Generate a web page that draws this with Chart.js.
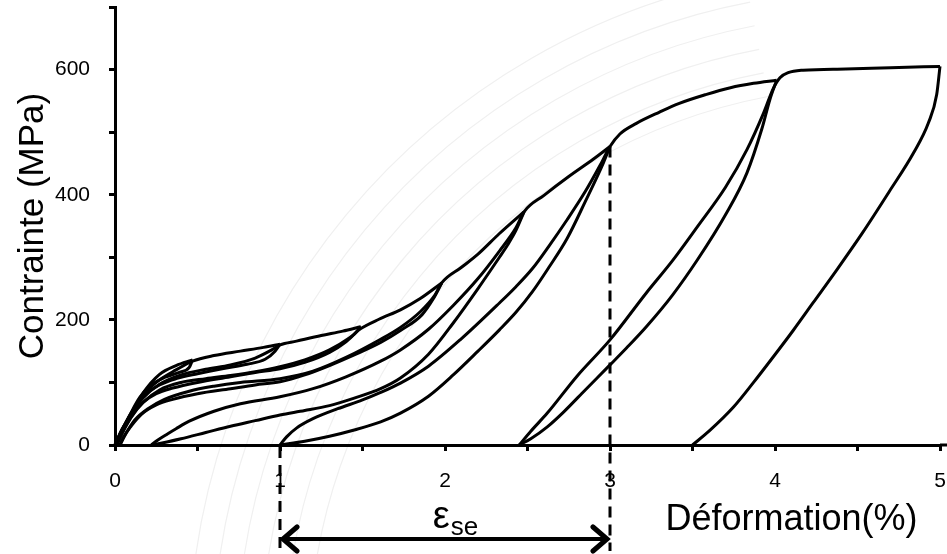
<!DOCTYPE html>
<html><head><meta charset="utf-8">
<script src="https://cdn.jsdelivr.net/npm/chart.js@4.4.1/dist/chart.umd.min.js"></script>
<style>html,body{margin:0;padding:0;background:#fff}#wrap{width:947px;height:554px}</style>
</head><body><div id="wrap"><canvas id="c" width="947" height="554"></canvas></div>
<script>
// Tick labels
const xTickLabels = [0, 1, 2, 3, 4, 5];
const yTickLabels = [0, 200, 400, 600];
// Strain (%) / stress (MPa) pairs, one array per loading / unloading branch
const load1 = [[0,0],[0.04,24],[0.09,45],[0.17,83],[0.27,113],[0.37,127],[0.47,136]];
const unload1 = [[0.47,136],[0.45,124],[0.39,116],[0.3,108],[0.22,96],[0.15,76],[0.09,48],[0.04,22],[0,0]];
const load2 = [[0,0],[0.04,23],[0.1,52],[0.17,80],[0.27,104],[0.37,120],[0.47,134],[0.6,143],[0.76,150],[0.9,156],[1.0,161]];
const unload2 = [[1.0,161],[0.97,150],[0.91,137],[0.8,129],[0.65,122],[0.5,114],[0.37,106],[0.27,96],[0.18,80],[0.11,56],[0.05,27],[0,0]];
const load3 = [[0,0],[0.05,27],[0.1,50],[0.17,75],[0.27,97],[0.4,112],[0.55,121],[0.7,128],[0.85,139],[0.95,152],[1.0,160],[1.1,166],[1.25,175],[1.38,182],[1.49,189]];
const unload3 = [[1.49,189],[1.45,177],[1.4,165],[1.3,148],[1.15,132],[1.0,122],[0.85,116],[0.7,109],[0.5,100],[0.35,91],[0.25,82],[0.17,68],[0.1,46],[0.05,23],[0.01,0]];
const load4 = [[0.01,0],[0.05,22],[0.1,45],[0.17,68],[0.27,88],[0.4,100],[0.55,106],[0.7,111],[0.85,117],[1.0,125],[1.15,136],[1.3,152],[1.42,171],[1.49,186],[1.6,201],[1.73,216],[1.85,234],[1.98,259]];
const unload4 = [[1.98,259],[1.93,234],[1.86,208],[1.73,183],[1.61,164],[1.45,144],[1.3,127],[1.15,112],[1.0,101],[0.85,96],[0.7,90],[0.5,82],[0.35,73],[0.25,64],[0.16,49],[0.1,31],[0.05,12],[0.03,0]];
const load5 = [[0.03,0],[0.07,20],[0.12,40],[0.2,58],[0.3,73],[0.45,86],[0.6,94],[0.76,100],[1.0,106],[1.2,118],[1.4,140],[1.61,169],[1.73,188],[1.85,213],[1.94,240],[1.98,259],[2.1,284],[2.2,305],[2.33,338],[2.48,373]];
const unload5 = [[2.48,373],[2.43,343],[2.38,320],[2.33,300],[2.2,250],[2.05,195],[1.9,145],[1.73,107],[1.61,90],[1.45,75],[1.3,63],[1.15,55],[1.0,48],[0.85,39],[0.7,30],[0.55,20],[0.4,10],[0.3,4],[0.22,0]];
const load6 = [[0.22,0],[0.26,8],[0.32,18],[0.37,26],[0.45,38],[0.6,54],[0.76,66],[1.0,77],[1.2,90],[1.4,109],[1.61,134],[1.73,152],[1.9,185],[2.05,223],[2.2,266],[2.33,310],[2.43,347],[2.48,373],[2.6,399],[2.75,429],[2.9,457],[3.0,477]];
const unload6 = [[3.0,477],[2.96,451],[2.85,389],[2.74,330],[2.63,284],[2.53,245],[2.43,212],[2.33,184],[2.2,150],[2.05,112],[1.9,78],[1.73,51],[1.61,37],[1.45,24],[1.3,14],[1.15,6],[1.0,0]];
const load7 = [[1.0,0],[1.04,13],[1.1,27],[1.2,42],[1.35,58],[1.5,72],[1.61,84],[1.73,99],[1.9,126],[2.1,170],[2.33,227],[2.43,253],[2.53,282],[2.63,318],[2.74,360],[2.85,405],[2.94,447],[3.0,477],[3.06,497],[3.16,514],[3.3,532],[3.42,546],[3.58,560],[3.73,571],[3.87,578],[4.01,583]];
const unload7 = [[4.01,583],[3.97,553],[3.92,505],[3.83,435],[3.7,368],[3.53,296],[3.38,240],[3.22,189],[3.1,155],[3.0,128],[2.85,88],[2.72,53],[2.62,29],[2.52,10],[2.45,0]];
const load8 = [[2.45,0],[2.52,22],[2.62,51],[2.8,110],[3.0,168],[3.22,243],[3.38,295],[3.53,349],[3.7,412],[3.83,472],[3.93,530],[3.99,570],[4.03,587],[4.08,595],[4.17,599],[4.43,601],[4.7,603],[5.0,605]];
const unload8 = [[5.0,605],[4.98,560],[4.93,515],[4.84,467],[4.69,404],[4.53,339],[4.38,282],[4.23,227],[4.11,183],[3.99,141],[3.87,100],[3.75,61],[3.6,22],[3.5,0]];
// Superelastic strain annotation
const eseStrainStart = 1;
const eseStrainEnd = 3;
const eseStressPeak = 477;

const branches = [load1,unload1,load2,unload2,load3,unload3,load4,unload4,load5,unload5,load6,unload6,load7,unload7,load8,unload8];

const FONT = "'Liberation Sans', Arial, sans-serif";

const annot = {
  id: 'annot',
  beforeDraw(chart) {
    const {ctx, scales: {x, y}} = chart;
    ctx.save();
    ctx.strokeStyle = '#f0f0f0';
    ctx.lineWidth = 1.2;
    const cx = x.getPixelForValue(4.6), cy = y.getPixelForValue(-330);
    for (let r = 565; r <= 685; r += 24) {
      ctx.beginPath();
      ctx.arc(cx, cy, r, Math.PI * 1.0, Math.PI * 1.44);
      ctx.stroke();
    }
    ctx.restore();
  },
  afterDraw(chart) {
    const {ctx, scales: {x, y}} = chart;
    const x1 = x.getPixelForValue(eseStrainStart);
    const x3 = x.getPixelForValue(eseStrainEnd);
    const yPeak = y.getPixelForValue(eseStressPeak);
    const y0 = y.getPixelForValue(0);
    const xLeft = x.getPixelForValue(0);
    const yEnd = chart.height - 3;
    ctx.save();
    // x axis line runs on to the edge
    ctx.strokeStyle = '#000';
    ctx.lineWidth = 3;
    ctx.beginPath(); ctx.moveTo(chart.chartArea.right, y0); ctx.lineTo(chart.width, y0); ctx.stroke();
    // tick labels
    ctx.fillStyle = '#000';
    ctx.font = '21px ' + FONT;
    ctx.textBaseline = 'middle';
    ctx.textAlign = 'right';
    yTickLabels.forEach(v => ctx.fillText(String(v), xLeft - 25, y.getPixelForValue(v)));
    ctx.textAlign = 'center';
    xTickLabels.forEach(v => ctx.fillText(String(v), x.getPixelForValue(v), y0 + 36));
    // dashed guides
    ctx.setLineDash([11, 7]);
    ctx.beginPath(); ctx.moveTo(x1, y0 + 2); ctx.lineTo(x1, yEnd); ctx.stroke();
    ctx.beginPath(); ctx.moveTo(x3, yPeak); ctx.lineTo(x3, yEnd); ctx.stroke();
    ctx.setLineDash([]);
    // double arrow
    const ya = y0 + 94;
    ctx.lineWidth = 4;
    ctx.beginPath(); ctx.moveTo(x1 + 3, ya); ctx.lineTo(x3 - 3, ya); ctx.stroke();
    ctx.lineWidth = 5;
    ctx.lineCap = 'round'; ctx.lineJoin = 'miter';
    ctx.beginPath(); ctx.moveTo(x1 + 17, ya - 12); ctx.lineTo(x1 + 3, ya); ctx.lineTo(x1 + 17, ya + 12); ctx.stroke();
    ctx.beginPath(); ctx.moveTo(x3 - 17, ya - 12); ctx.lineTo(x3 - 3, ya); ctx.lineTo(x3 - 17, ya + 12); ctx.stroke();
    // epsilon_se label
    ctx.textBaseline = 'alphabetic';
    ctx.textAlign = 'left';
    const xm = (x1 + x3) / 2 + 10;
    ctx.font = '38px ' + FONT;
    const ew = ctx.measureText('ε').width;
    ctx.font = '26px ' + FONT;
    const sw = ctx.measureText('se').width;
    const start = xm - (ew + sw) / 2;
    ctx.font = '38px ' + FONT;
    ctx.fillText('ε', start, y0 + 83);
    ctx.font = '26px ' + FONT;
    ctx.fillText('se', start + ew + 1, y0 + 90);
    // x axis title
    ctx.font = '36px ' + FONT;
    ctx.textAlign = 'center';
    ctx.fillText('Déformation(%)', x.getPixelForValue(4.1), y0 + 85);
    ctx.restore();
  }
};

function zeroPad(s) { s.paddingTop = 0; s.paddingBottom = 0; s.paddingLeft = 0; s.paddingRight = 0; }

new Chart(document.getElementById('c'), {
  type: 'scatter',
  data: {
    datasets: branches.map(b => ({
      data: b.slice().sort((p, q) => p[0] - q[0]).map(([sx, sy]) => ({x: sx, y: sy})),
      showLine: true,
      borderColor: '#000',
      borderWidth: 3,
      pointRadius: 0,
      pointHoverRadius: 0,
      cubicInterpolationMode: 'monotone',
      fill: false,
      clip: false
    }))
  },
  options: {
    responsive: false,
    animation: false,
    events: [],
    layout: {padding: {top: 7, right: 7, left: 0, bottom: 0}},
    plugins: {legend: {display: false}, tooltip: {enabled: false}},
    scales: {
      x: {
        type: 'linear', min: 0, max: 5,
        afterFit(s) { s.height = 109; zeroPad(s); },
        afterBuildTicks(s) { s.ticks = [0,0.5,1,1.5,2,2.5,3,3.5,4,4.5,5].map(v => ({value: v})); },
        ticks: {display: false},
        grid: {display: true, drawOnChartArea: false, drawTicks: true, tickLength: 6, color: '#000', lineWidth: 3},
        border: {display: true, color: '#000', width: 3}
      },
      y: {
        type: 'linear', min: 0, max: 700,
        afterFit(s) { s.width = 115; zeroPad(s); },
        afterBuildTicks(s) { s.ticks = [0,100,200,300,400,500,600,700].map(v => ({value: v})); },
        ticks: {display: false},
        grid: {display: true, drawOnChartArea: false, drawTicks: true, tickLength: 6, color: '#000', lineWidth: 3},
        border: {display: true, color: '#000', width: 3},
        title: {display: true, text: 'Contrainte (MPa)', color: '#000', font: {family: FONT, size: 35}, padding: {top: 12, bottom: 0}}
      }
    }
  },
  plugins: [annot]
});
</script>
</body></html>
